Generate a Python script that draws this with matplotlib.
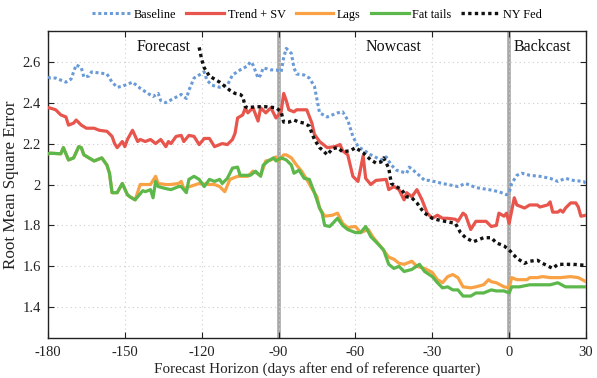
import matplotlib
matplotlib.use("Agg")
import matplotlib.pyplot as plt
from matplotlib.ticker import FuncFormatter

# ---------------- data ----------------
base_days = [-180, -179, -177, -173, -171, -170, -169, -167, -166, -164, -163, -160, -157, -155, -153,
             -151, -149, -147, -144, -141, -139, -137, -136, -134, -131, -128, -126, -125, -123, -121,
             -119, -118, -116, -113, -110, -108, -105, -102, -101, -100, -98, -97, -96, -93, -91,
             -89, -88, -87, -85, -84, -83, -80, -78, -76, -74, -71, -69, -67, -65, -63,
             -61, -59, -57, -54, -50, -48, -46, -44, -40, -39, -36, -33, -31, -26, -20,
             -17, -13, -8, -4, -1, 0, 1, 3, 5, 8, 12, 16, 19, 22, 25, 29, 30]
base_vals = [2.525, 2.52, 2.52, 2.50, 2.515, 2.55, 2.585, 2.57, 2.525, 2.53, 2.55, 2.545, 2.54, 2.50, 2.475,
             2.48, 2.49, 2.50, 2.47, 2.445, 2.43, 2.445, 2.41, 2.40, 2.42, 2.44, 2.42, 2.46, 2.52, 2.535,
             2.55, 2.51, 2.485, 2.475, 2.485, 2.535, 2.56, 2.58, 2.60, 2.585, 2.52, 2.535, 2.57, 2.56, 2.56,
             2.55, 2.62, 2.665, 2.64, 2.57, 2.54, 2.535, 2.52, 2.48, 2.35, 2.33, 2.34, 2.35, 2.355, 2.315,
             2.235, 2.185, 2.17, 2.145, 2.12, 2.135, 2.095, 2.07, 2.055, 2.085, 2.055, 2.02, 2.02, 2.005, 1.99,
             2.005, 1.985, 1.975, 1.965, 1.95, 1.96, 2.005, 2.045, 2.055, 2.045, 2.04, 2.03, 2.015, 2.03, 2.02, 2.015, 2.005]

trend_days = [-180, -179, -177, -175, -173, -172, -170, -169, -167, -165, -162, -160, -157, -155, -154,
              -153, -151, -150, -149, -147, -145, -144, -142, -140, -138, -136, -134, -133, -132, -130,
              -128, -127, -125, -123, -121, -119, -117, -115, -113, -112, -110, -108, -107, -106, -104,
              -103, -102, -100, -98, -97, -95, -93, -91, -89, -88, -87, -86, -84, -83, -79,
              -77, -76, -74, -71, -68, -66, -65, -63, -61, -59, -57, -56, -54, -52, -48,
              -47, -45, -43, -41, -40, -38, -36, -34, -32, -30, -28, -26, -24, -21, -20,
              -18, -17, -15, -13, -9, -7, -5, -4, -2, -1, 0, 2, 3, 6, 8,
              11, 12, 15, 16, 17, 19, 20, 21, 22, 24, 26, 27, 28, 30]
trend_vals = [2.375, 2.373, 2.365, 2.34, 2.33, 2.29, 2.30, 2.315, 2.29, 2.275, 2.275, 2.265, 2.26, 2.235, 2.20,
              2.18, 2.21, 2.185, 2.22, 2.265, 2.21, 2.22, 2.21, 2.22, 2.20, 2.22, 2.185, 2.21, 2.20, 2.235,
              2.24, 2.21, 2.24, 2.235, 2.195, 2.225, 2.225, 2.185, 2.195, 2.20, 2.195, 2.22, 2.25, 2.325, 2.34,
              2.373, 2.35, 2.375, 2.31, 2.375, 2.35, 2.375, 2.325, 2.355, 2.445, 2.41, 2.365, 2.355, 2.365, 2.365,
              2.30, 2.245, 2.21, 2.18, 2.185, 2.195, 2.165, 2.145, 2.04, 2.015, 2.14, 2.03, 2.00, 2.02, 2.025,
              1.975, 1.99, 1.975, 1.925, 1.96, 1.94, 1.975, 1.925, 1.86, 1.835, 1.85, 1.835, 1.835, 1.83, 1.82,
              1.86, 1.85, 1.78, 1.82, 1.82, 1.795, 1.80, 1.86, 1.845, 1.86, 1.81, 1.935, 1.90, 1.885, 1.90,
              1.90, 1.89, 1.90, 1.915, 1.865, 1.865, 1.875, 1.865, 1.885, 1.91, 1.91, 1.89, 1.845, 1.85]

lags_days = [-180, -179, -175, -174, -172, -170, -168, -167, -166, -164, -162, -159, -157, -156, -155,
             -153, -151, -149, -148, -146, -144, -142, -140, -138, -137, -134, -132, -129, -128, -127,
             -121, -117, -115, -113, -111, -109, -106, -102, -100, -97, -95, -93, -91, -90, -88,
             -87, -85, -83, -81, -79, -77, -75, -74, -72, -69, -67, -65, -63, -60, -58,
             -55, -53, -50, -47, -45, -43, -41, -38, -36, -33, -30, -28, -26, -24, -22,
             -20, -18, -15, -13, -10, -8, -7, -5, -2, 0, 1, 3, 7, 8, 11,
             13, 16, 20, 24, 27, 30]
lags_vals = [2.15, 2.153, 2.15, 2.18, 2.12, 2.13, 2.185, 2.18, 2.145, 2.13, 2.115, 2.13, 2.095, 2.055, 1.96,
             1.96, 2.005, 1.95, 1.94, 1.925, 2.00, 2.00, 2.00, 2.04, 2.005, 2.00, 2.00, 2.005, 2.015, 1.98,
             2.005, 2.00, 2.00, 1.99, 1.965, 2.025, 2.04, 2.04, 2.065, 2.045, 2.115, 2.12, 2.135, 2.115, 2.145,
             2.145, 2.13, 2.095, 2.065, 2.025, 1.98, 1.94, 1.885, 1.845, 1.85, 1.86, 1.81, 1.79, 1.795, 1.765,
             1.78, 1.74, 1.695, 1.645, 1.635, 1.615, 1.61, 1.625, 1.60, 1.59, 1.57, 1.535, 1.52, 1.55, 1.56,
             1.545, 1.50, 1.495, 1.50, 1.51, 1.535, 1.525, 1.52, 1.50, 1.495, 1.545, 1.535, 1.535, 1.545, 1.545,
             1.55, 1.545, 1.545, 1.55, 1.545, 1.525]

fat_days = [-180, -179, -175, -174, -172, -170, -168, -167, -166, -164, -162, -159, -157, -156, -155,
            -153, -151, -149, -148, -146, -143, -142, -140, -139, -138, -137, -134, -132, -129, -128,
            -126, -125, -123, -121, -119, -117, -115, -113, -112, -110, -108, -106, -105, -103, -101,
            -99, -97, -96, -94, -92, -91, -89, -87, -85, -84, -82, -80, -78, -76, -74,
            -73, -72, -70, -67, -65, -63, -60, -58, -56, -54, -52, -49, -47, -45, -43,
            -41, -38, -35, -33, -30, -28, -26, -24, -22, -20, -18, -15, -13, -10, -7,
            -5, -2, 0, 1, 4, 8, 12, 16, 19, 22, 26, 30]
fat_vals = [2.15, 2.153, 2.15, 2.18, 2.12, 2.13, 2.185, 2.18, 2.145, 2.13, 2.115, 2.13, 2.095, 2.055, 1.96,
            1.96, 2.005, 1.95, 1.94, 1.925, 1.97, 1.965, 1.975, 1.935, 2.015, 1.99, 1.98, 1.975, 1.99, 1.99,
            1.96, 2.025, 2.04, 2.025, 1.99, 2.025, 2.015, 2.025, 2.005, 2.03, 2.08, 2.085, 2.045, 2.045, 2.045,
            2.065, 2.04, 2.095, 2.115, 2.13, 2.115, 2.13, 2.12, 2.095, 2.055, 2.07, 2.03, 2.025, 1.96, 1.885,
            1.86, 1.80, 1.795, 1.835, 1.80, 1.78, 1.765, 1.765, 1.795, 1.745, 1.72, 1.68, 1.61, 1.59, 1.60,
            1.575, 1.585, 1.61, 1.575, 1.55, 1.52, 1.495, 1.50, 1.485, 1.485, 1.455, 1.455, 1.47, 1.47, 1.485,
            1.48, 1.48, 1.47, 1.50, 1.50, 1.51, 1.51, 1.51, 1.52, 1.50, 1.50, 1.50]

nyfed_days = [-121, -120, -119, -117, -115, -113, -111, -109, -107, -105, -104, -103, -102, -99, -95,
              -91, -89, -88, -86, -84, -82, -80, -78, -77, -76, -74, -73, -71, -69, -67,
              -65, -62, -60, -57, -54, -52, -50, -49, -47, -46, -44, -42, -40, -38, -36,
              -34, -33, -30, -28, -25, -21, -19, -17, -14, -10, -7, -5, -2, 0, 3,
              6, 8, 11, 13, 17, 19, 21, 25, 30]
nyfed_vals = [2.67, 2.61, 2.57, 2.53, 2.515, 2.50, 2.48, 2.46, 2.445, 2.44, 2.43, 2.38, 2.375, 2.38, 2.38,
              2.375, 2.355, 2.305, 2.305, 2.315, 2.305, 2.30, 2.285, 2.25, 2.22, 2.18, 2.17, 2.145, 2.175, 2.18,
              2.16, 2.165, 2.18, 2.155, 2.12, 2.105, 2.11, 2.13, 2.08, 2.005, 1.99, 1.975, 1.94, 1.935, 1.91,
              1.875, 1.86, 1.835, 1.828, 1.82, 1.81, 1.765, 1.74, 1.72, 1.74, 1.74, 1.715, 1.70, 1.68, 1.64,
              1.615, 1.625, 1.63, 1.615, 1.59, 1.61, 1.61, 1.61, 1.605]

x_ticks = [-180, -150, -120, -90, -60, -30, 0, 30]
y_ticks = [1.4, 1.6, 1.8, 2.0, 2.2, 2.4, 2.6]
phase_lines = [-90, 0]
phase_labels = [("Forecast", -135), ("Nowcast", -45), ("Backcast", 13)]

# ---------------- style ----------------
plt.rcParams['font.family'] = ['Liberation Serif', 'DejaVu Serif']
plt.rcParams['axes.unicode_minus'] = False

c_blue = '#6a9bd8'
c_red = '#e8554c'
c_orange = '#f9a245'
c_green = '#5db84c'
c_black = '#111111'

fig = plt.figure(figsize=(5.97, 3.78), dpi=100)
ax = fig.add_axes([0.0804, 0.1058, 0.9012, 0.8122])

for v in phase_lines:
    ax.axvline(v, color='#a8a8a8', lw=2.6, zorder=1)

ax.plot(base_days, base_vals, color=c_blue, lw=2.2, ls=(0, (1, 0.9)), label='Baseline', zorder=3)
ax.plot(trend_days, trend_vals, color=c_red, lw=2.3, label='Trend + SV', zorder=3)
ax.plot(lags_days, lags_vals, color=c_orange, lw=2.3, label='Lags', zorder=3)
ax.plot(fat_days, fat_vals, color=c_green, lw=2.3, label='Fat tails', zorder=4)
ax.plot(nyfed_days, nyfed_vals, color=c_black, lw=2.4, ls=(0, (1, 1)), label='NY Fed', zorder=5)

ax.set_xlim(-180, 30)
ax.set_ylim(1.25, 2.75)
ax.set_xticks(x_ticks)
ax.set_yticks(y_ticks)
ax.yaxis.set_major_formatter(FuncFormatter(lambda v, p: '%g' % v))
ax.xaxis.set_major_formatter(FuncFormatter(lambda v, p: '%d' % v))
ax.tick_params(direction='in', top=True, right=True, length=4, width=0.8,
               labelsize=10.5, colors='#222222')
ax.tick_params(axis='x', pad=6)
ax.tick_params(axis='y', pad=5)
ax.grid(True, color='#cfcfcf', ls=(0, (1, 3)), lw=0.8, zorder=0)
for s in ax.spines.values():
    s.set_color('#222222')
    s.set_linewidth(1.0)

for txt, xv in phase_labels:
    ax.text(xv, 2.652, txt, ha='center', va='baseline', fontsize=11.5, color='#111111')

ax.set_xlabel('Forecast Horizon (days after end of reference quarter)', fontsize=10.9, color='#222222', labelpad=2)
ax.set_ylabel('Root Mean Square Error', fontsize=12.3, color='#222222', labelpad=3)

leg = ax.legend(loc='lower center', bbox_to_anchor=(0.5, 1.0), ncol=5, frameon=False,
                fontsize=8.8, handlelength=3.1, columnspacing=0.8, handletextpad=0.3,
                borderaxespad=0.45)

fig.savefig('out.png', dpi=100)
